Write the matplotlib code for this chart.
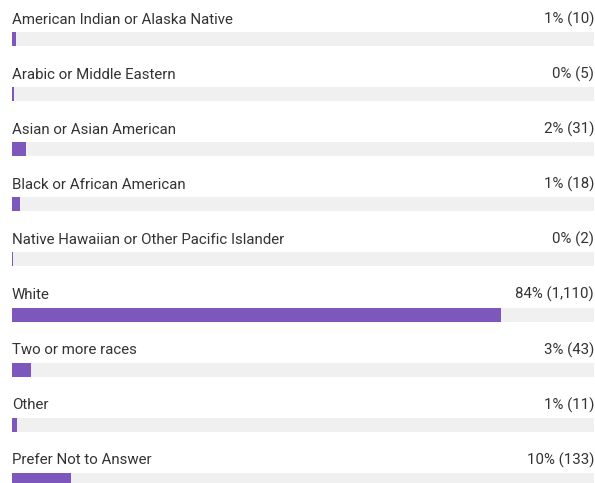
import matplotlib.pyplot as plt

categories = [
    "American Indian or Alaska Native",
    "Arabic or Middle Eastern",
    "Asian or Asian American",
    "Black or African American",
    "Native Hawaiian or Other Pacific Islander",
    "White",
    "Two or more races",
    "Other",
    "Prefer Not to Answer",
]
counts = [10, 5, 31, 18, 2, 1110, 43, 11, 133]
respondents = 1321

pcts = [c / respondents * 100 for c in counts]

W, H = 595, 483
fig = plt.figure(figsize=(W / 100, H / 100), dpi=100)
plt.rcParams['font.family'] = ['Roboto', 'DejaVu Sans']

left, right = 12, 594
ax = fig.add_axes([left / W, 0, (right - left) / W, 1])
ax.set_xlim(0, 100)
ax.set_ylim(H, 0)
ax.axis('off')

step = 55.1
for i, (cat, c, p) in enumerate(zip(categories, counts, pcts)):
    top = 32 + i * step
    # grey track, then the filled share on top of it
    ax.barh(top + 7, 100, height=14, left=0, color='#f0f0f0')
    ax.barh(top + 7, p, height=14, left=0, color='#7e57bc')
    ax.text(0, top - 8.5, cat, ha='left', va='baseline', fontsize=10.8, color='#333333')
    ax.text(100, top - 8.5, f"{round(p)}% ({c:,})", ha='right', va='baseline',
            fontsize=10.8, color='#333333')

fig.savefig('out.png', dpi=100)
